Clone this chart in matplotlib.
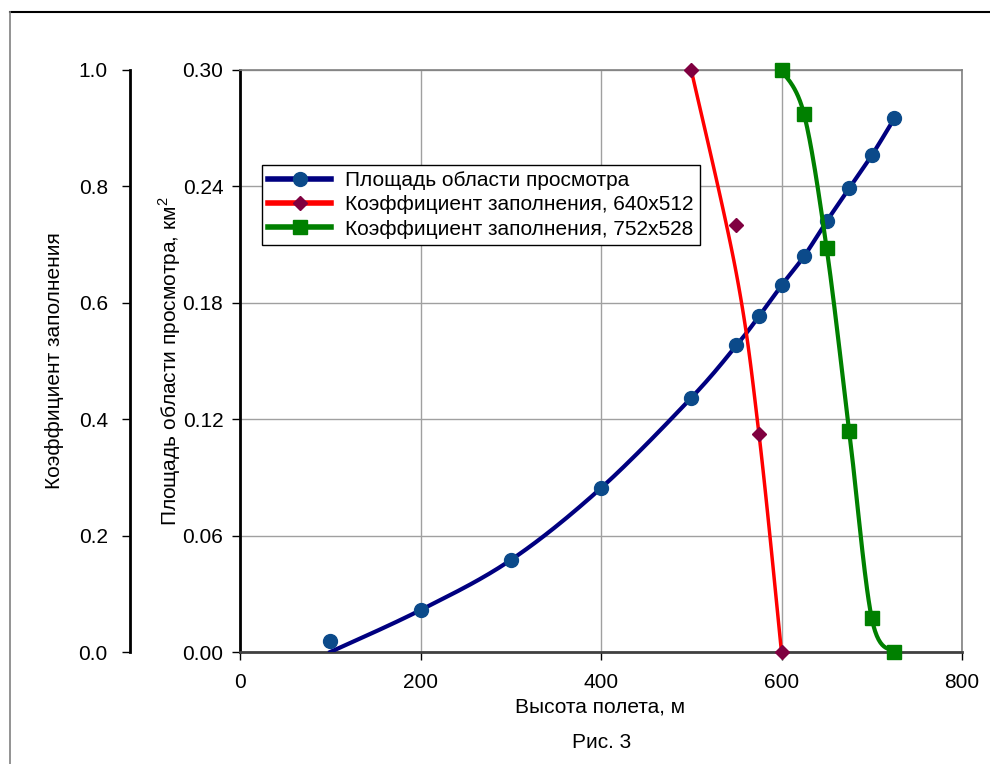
import numpy as np
import matplotlib.pyplot as plt
from matplotlib.lines import Line2D

plt.rcParams['font.family'] = ['Liberation Sans', 'DejaVu Sans']
plt.rcParams['mathtext.fontset'] = 'custom'
plt.rcParams['mathtext.rm'] = 'Liberation Sans'

# data
height = [100, 200, 300, 400, 500, 550, 575, 600, 625, 650, 675, 700, 725]
area = [0.0057, 0.0216, 0.0474, 0.0845, 0.131, 0.158, 0.173, 0.189,
        0.204, 0.222, 0.239, 0.256, 0.275]
area_line = [0.0, 0.0216, 0.0474, 0.0845, 0.131, 0.158, 0.173, 0.189,
             0.204, 0.222, 0.239, 0.256, 0.275]

h_640 = [500, 550, 575, 600]
fill_640 = [1.0, 0.734, 0.375, 0.0]
fill_640_line = [1.0, 0.65, 0.375, 0.0]

h_752 = [600, 625, 650, 675, 700, 725]
fill_752 = [1.0, 0.924, 0.694, 0.380, 0.058, 0.0]

x_ticks = [0, 200, 400, 600, 800]
area_ticks = [0.0, 0.06, 0.12, 0.18, 0.24, 0.30]
fill_ticks = [0.0, 0.2, 0.4, 0.6, 0.8, 1.0]

FS = 15


# Excel-like smoothed line (Bezier through points), done in normalised coords
def smooth(x, y, xr, yr, n=30):
    p = np.column_stack([np.asarray(x, float) / xr, np.asarray(y, float) / yr])
    out = []
    for i in range(len(p) - 1):
        p0 = p[i - 1] if i > 0 else p[i]
        p1, p2 = p[i], p[i + 1]
        p3 = p[i + 2] if i + 2 < len(p) else p[i + 1]
        c1 = p1 + (p2 - p0) / 6
        c2 = p2 - (p3 - p1) / 6
        t = np.linspace(0, 1, n)[:, None]
        seg = ((1 - t) ** 3 * p1 + 3 * (1 - t) ** 2 * t * c1
               + 3 * (1 - t) * t ** 2 * c2 + t ** 3 * p2)
        out.append(seg)
    s = np.vstack(out)
    return s[:, 0] * xr, s[:, 1] * yr


fig = plt.figure(figsize=(9.9, 7.64), dpi=100)
W, H = 990, 764
ax = fig.add_axes([240 / W, 1 - 652 / H, 722 / W, 582 / H])

ax.set_xlim(0, 800)
ax.set_ylim(0, 0.30)
ax.set_xticks(x_ticks)
ax.set_yticks(area_ticks)
ax.set_yticklabels(['%.2f' % v for v in area_ticks])
ax.grid(True, color='#a0a0a0', linewidth=1)
ax.set_axisbelow(True)

for s in ['top', 'right']:
    ax.spines[s].set_color('#808080')
    ax.spines[s].set_linewidth(1.2)
ax.spines['bottom'].set_color('#404040')
ax.spines['bottom'].set_linewidth(2)
ax.spines['left'].set_color('black')
ax.spines['left'].set_linewidth(2)
ax.tick_params(axis='both', labelsize=FS, direction='out', length=6, width=1)
ax.tick_params(axis='y', pad=6)
ax.tick_params(axis='x', pad=9)

ax.set_xlabel('Высота полета, м', fontsize=FS, va='center')
ax.xaxis.set_label_coords((600 - 240) / 722, -(707 - 652) / 582)
ax.set_ylabel('Площадь области просмотра, км$^2$', fontsize=FS, va='center')
ax.yaxis.set_label_coords((170 - 240) / 722, 0.5)

# blue series
bx, by = smooth(height, area_line, 800, 0.30)
ax.plot(bx, by, color='#000080', linewidth=3, zorder=3)
ax.plot(height, area, 'o', color='#0b4a8a', markersize=10, zorder=4)

# fill factor axis
ax2 = ax.twinx()
ax2.set_ylim(0, 1.0)
ax2.yaxis.set_ticks_position('left')
ax2.yaxis.set_label_position('left')
ax2.spines['left'].set_position(('outward', 110 * 0.72))
ax2.spines['left'].set_linewidth(2)
for s in ['top', 'right', 'bottom']:
    ax2.spines[s].set_visible(False)
ax2.set_yticks(fill_ticks)
ax2.set_yticklabels(['%.1f' % v for v in fill_ticks])
ax2.tick_params(axis='y', labelsize=FS, direction='out', length=6, width=1, pad=10)
ax2.set_ylabel('Коэффициент заполнения', fontsize=FS, va='center')
ax2.yaxis.set_label_coords((55 - 240) / 722, 0.5)

rx, ry = smooth(h_640, fill_640_line, 800, 1.0)
ax2.plot(rx, ry, color='#ff0000', linewidth=2.5, zorder=3, clip_on=False)
ax2.plot(h_640, fill_640, 'D', color='#800040', markersize=7, zorder=4, clip_on=False)

gx, gy = smooth(h_752, fill_752, 800, 1.0)
ax2.plot(gx, gy, color='#008000', linewidth=3, zorder=3, clip_on=False)
ax2.plot(h_752, fill_752, 's', color='#008000', markersize=10, zorder=4, clip_on=False)

handles = [
    Line2D([], [], color='#000080', linewidth=4, marker='o', markersize=10,
           markerfacecolor='#0b4a8a', markeredgecolor='#0b4a8a'),
    Line2D([], [], color='#ff0000', linewidth=4, marker='D', markersize=7,
           markerfacecolor='#800040', markeredgecolor='#800040'),
    Line2D([], [], color='#008000', linewidth=4, marker='s', markersize=10,
           markerfacecolor='#008000', markeredgecolor='#008000'),
]
labels = ['Площадь области просмотра',
          'Коэффициент заполнения, 640x512',
          'Коэффициент заполнения, 752x528']
leg = ax2.legend(handles, labels, loc='upper left',
                 bbox_to_anchor=((262 - 240) / 722, (652 - 165) / 582),
                 fontsize=FS, frameon=True, fancybox=False, edgecolor='black',
                 framealpha=1, handlelength=3.0, handletextpad=0.7,
                 labelspacing=0.25, borderpad=0.3, borderaxespad=0)
leg.get_frame().set_linewidth(1)

fig.text(602 / W, 1 - 742 / H, 'Рис. 3', fontsize=FS, ha='center', va='center')

# figure frame
fig.add_artist(Line2D([10 / W, 1.0], [1 - 12 / H, 1 - 12 / H], color='black',
                      linewidth=1.5, transform=fig.transFigure))
fig.add_artist(Line2D([10 / W, 10 / W], [0, 1 - 12 / H], color='#808080',
                      linewidth=1.2, transform=fig.transFigure))

fig.savefig('out.png', dpi=100)
